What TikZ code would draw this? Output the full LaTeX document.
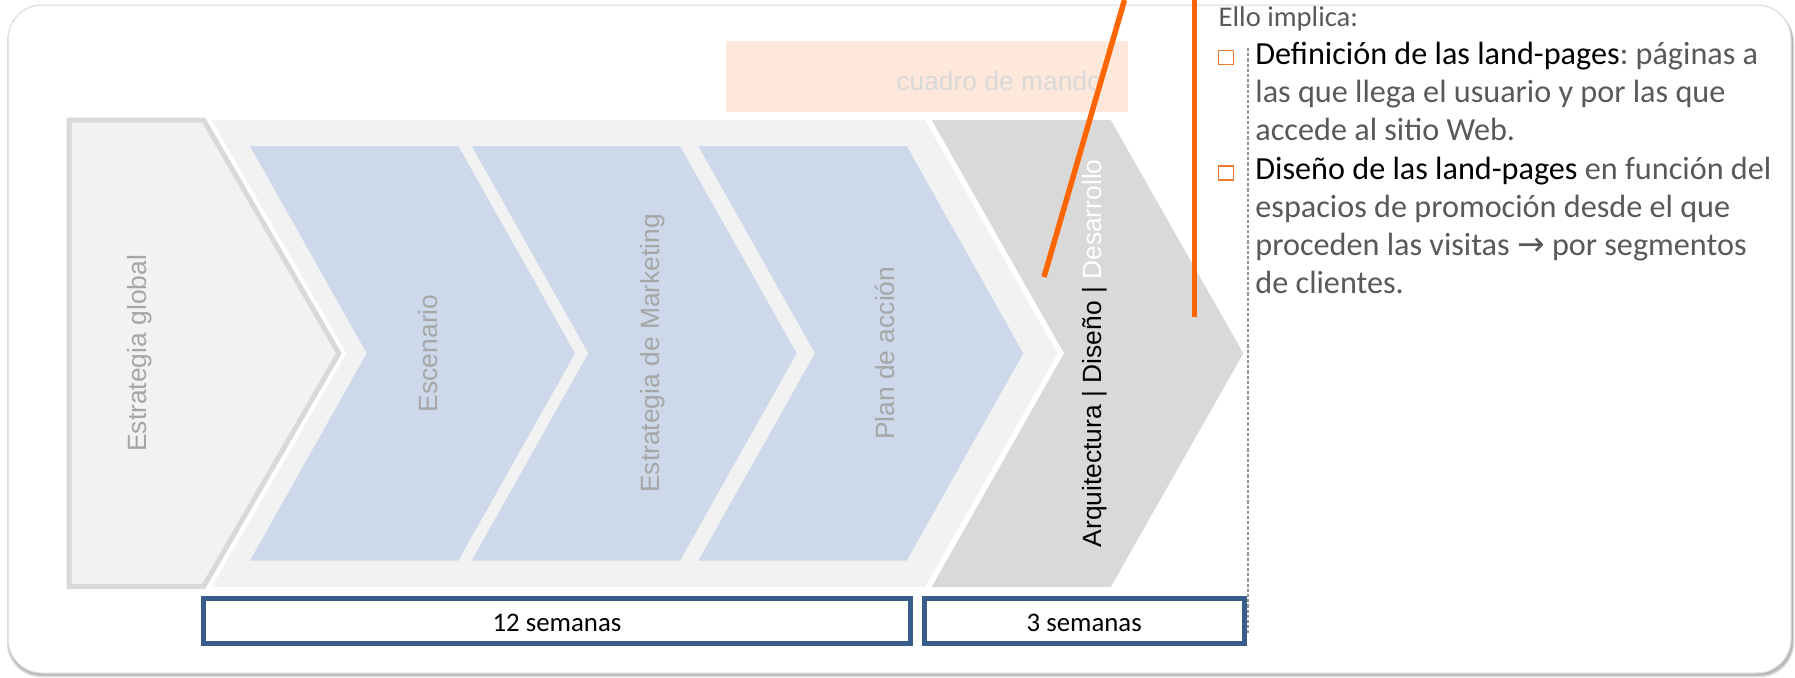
\documentclass[tikz,border=0pt]{standalone}
\usepackage{fontspec}
\setmainfont{Carlito}
\newfontfamily\arialfont{Liberation Sans}
\newfontfamily\symfont{DejaVu Sans}
\frenchspacing

\definecolor{bandgrey}{HTML}{F2F2F2}
\definecolor{edgegrey}{HTML}{D9D9D9}
\definecolor{stepblue}{HTML}{CDD9EA}
\definecolor{peach}{HTML}{FDE8DB}
\definecolor{labelgrey}{HTML}{A6A6A6}
\definecolor{bodygrey}{HTML}{595959}
\definecolor{boxblue}{HTML}{385D8A}
\definecolor{signal}{HTML}{FF6600}
\definecolor{bulletorange}{HTML}{F27A30}
\definecolor{panelline}{HTML}{DADADA}
\definecolor{shadowgrey}{HTML}{B8B8B8}

\begin{document}
\begin{tikzpicture}[
  x=0.5pt, y=-0.5pt,
  panelbox/.style={draw=panelline, fill=white, line width=0.5pt, rounded corners=17pt},
  bandshape/.style={fill=bandgrey},
  firststep/.style={fill=bandgrey, draw=edgegrey, line width=2.5pt, line join=miter},
  bluestep/.style={fill=stepblue},
  greystep/.style={fill=edgegrey},
  chevlabel/.style={font=\arialfont\fontsize{13.2}{15}\selectfont, text=labelgrey,
                    rotate=90, anchor=base, inner sep=0pt},
  weekbox/.style={draw=boxblue, fill=white, line width=2.5pt, inner sep=0pt,
                  font=\fontsize{13.4}{15}\selectfont, text=black,
                  text height=10.7pt, text depth=0pt},
  leadtext/.style={anchor=base west, inner sep=0pt,
                   font=\fontsize{14.3}{19}\selectfont, text=bodygrey},
  bodytext/.style={anchor=base west, inner sep=0pt,
                   font=\fontsize{16.1}{19}\selectfont, text=bodygrey},
  bulletbox/.style={draw=bulletorange, line width=0.6pt, minimum width=7.4pt,
                    minimum height=7pt, inner sep=0pt},
  signalline/.style={draw=signal, line width=2.75pt, line cap=butt},
  guideline/.style={draw=gray!85, line width=0.6pt, dash pattern=on 1.6pt off 1pt}
]
\useasboundingbox (0,0) rectangle (1795,677);

% rounded panel with a soft shadow
\fill[shadowgrey!55, rounded corners=17pt] (7,9) rectangle (1794,677);
\fill[shadowgrey, rounded corners=17pt] (8,7) rectangle (1793,675.5);
\draw[panelbox] (8,5) rectangle (1791,673);

% light band holding the three planning steps
\path[bandshape] (211.7,120) -- (925,120) -- (1057.5,353.3) -- (925,587)
  -- (211.7,587) -- (346.5,353.3) -- cycle;

% first step
\path[firststep] (69.2,120) -- (203.6,120) -- (338.8,353.3) -- (203.6,586.6)
  -- (69.2,586.6) -- cycle;

% the three blue steps
\path[bluestep] (250,146) -- (458.3,146) -- (575,353.3) -- (458.3,560.6)
  -- (250,560.6) -- (366.7,353.3) -- cycle;
\path[bluestep] (471.7,146) -- (680,146) -- (796.7,353.3) -- (680,560.6)
  -- (471.7,560.6) -- (588.3,353.3) -- cycle;
\path[bluestep] (698.3,146) -- (906.7,146) -- (1023.3,353.3) -- (906.7,560.6)
  -- (698.3,560.6) -- (815,353.3) -- cycle;

% last step
\path[greystep] (931.7,120) -- (1110.7,120) -- (1243.3,353.3) -- (1110.7,587)
  -- (931.7,587) -- (1064,353.3) -- cycle;

% dashboard box
\fill[peach] (726,41) rectangle (1127.7,111.7);
\node[anchor=base west, inner sep=0pt, text=edgegrey,
      font=\arialfont\fontsize{13.2}{15}\selectfont] (cuadro) at (896,90) {cuadro de mando};

% step labels
\node[chevlabel] (global) at (146,353.3) {Estrategia global};
\node[chevlabel] (escenario) at (437.3,353.3) {Escenario};
\node[chevlabel] (marketing) at (659.3,353.3) {Estrategia de Marketing};
\node[chevlabel] (plan) at (894,353.3) {Plan de acción};
\node[chevlabel] (desarrollo) at (1101,353.3)
  {\textcolor{black}{Arquitectura | Diseño | }\textcolor{white}{Desarrollo}};

% divider between diagram and notes
\coordinate (guidetop) at (1248,48);
\coordinate (guidebot) at (1248,633);
\draw[guideline] (guidetop) -- (guidebot);

% duration boxes
\node[weekbox, minimum width=353.8pt, minimum height=22.5pt] (w12) at (557,621) {12 semanas};
\node[weekbox, minimum width=160pt, minimum height=22.5pt] (w3) at (1084.2,621) {3 semanas};

% orange call-out lines
\coordinate (slanttop) at (1124.5,0);
\coordinate (slantend) at (1044,277);
\coordinate (verttop) at (1194.3,0);
\coordinate (vertend) at (1194.3,317.3);
\draw[signalline] (slanttop) -- (slantend);
\draw[signalline] (verttop) -- (vertend);

% notes
\node[leadtext] (n0) at (1218.3,26.7) {Ello implica:};
\node[bodytext] (n1) at (1255,64.8) {\textcolor{black}{Definición de las land-pages}: páginas a};
\node[bodytext] (n2) at (1255,102.9) {las que llega el usuario y por las que};
\node[bodytext] (n3) at (1255,140.9) {accede al sitio Web.};
\node[bodytext] (n4) at (1255,179.0) {\textcolor{black}{Diseño de las land-pages} en función del};
\node[bodytext] (n5) at (1255,217.1) {espacios de promoción desde el que};
\node[bodytext] (n6) at (1255,255.2) {proceden las visitas {\symfont\fontsize{16.5}{19}\selectfont →} por segmentos};
\node[bodytext] (n7) at (1255,293.3) {de clientes.};

\node[bulletbox] (b1) at (1225.7,57.2) {};
\node[bulletbox] (b2) at (1225.7,172.9) {};
\end{tikzpicture}
\end{document}
